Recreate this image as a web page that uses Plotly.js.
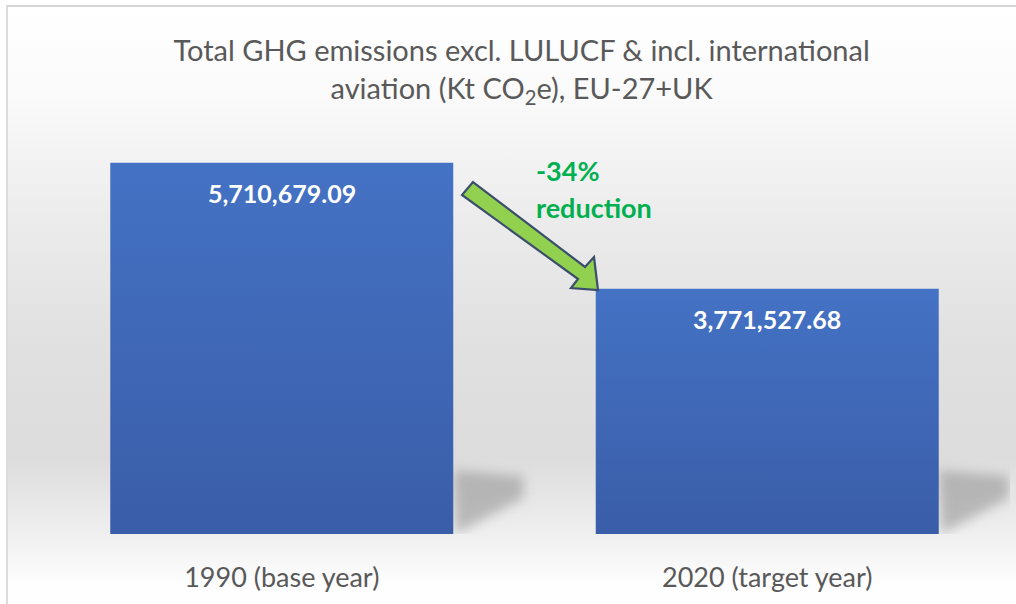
<!DOCTYPE html>
<html>
<head>
<meta charset="utf-8">
<script src="https://cdn.plot.ly/plotly-3.0.1.min.js"></script>
<style>
  html, body { margin: 0; padding: 0; width: 1016px; height: 604px; overflow: hidden; background: #ffffff; }
  #frame {
    position: absolute; left: 6px; top: 5px; width: 1010px; height: 599px;
    border-top: 2px solid #d6d6d6; border-left: 2px solid #dcdcdc;
    background: linear-gradient(to bottom, #ffffff 0%, #fafafa 15%, #ececec 35%, #e1e1e1 55%, #dcdcdc 75%, #efefef 88%, #fdfdfd 96%, #ffffff 100%);
  }
  #chart { position: absolute; left: 0; top: 0; width: 1016px; height: 604px; }
</style>
</head>
<body>
<div id="frame"></div>
<div id="chart"></div>
<script>
// ---- data ----
const categories = ["1990 (base year)", "2020 (target year)"];
const emissions = [5710679.09, 3771527.68];
const reductionLabel = ["-34%", "reduction"];
const chartTitle = "Total GHG emissions excl. LULUCF &amp; incl. international<br>aviation (Kt CO<sub>2</sub>e), EU-27+UK";

// ---- layout constants ----
const W = 1016, H = 604;
const M = { l: 39, r: 6, t: 144, b: 70 };
const plotW = W - M.l - M.r, plotH = H - M.t - M.b;
const yMax = 6000000;
const bargap = 0.2935;
const FONT = "Lato, 'Open Sans', sans-serif";

function px2paper(px, py) { return [(px - M.l) / plotW, (H - M.b - py) / plotH]; }
function pathFromPx(points) {
  return points.map((p, i) => {
    const q = px2paper(p[0], p[1]);
    return (i ? "L" : "M") + q[0].toFixed(5) + "," + q[1].toFixed(5);
  }).join(" ") + " Z";
}

// shadows derived from bar geometry (data coords)
const half = (1 - bargap) / 2;
const xPerPx = 2 / plotW, yPerPx = yMax / plotH;
const shapes = [];
emissions.forEach((v, i) => {
  const r = i + half;
  const pts = [[0, 64], [70, 58], [70, 36], [2, 0]];
  const path = pts.map((p, k) => (k ? "L" : "M") + (r + p[0] * xPerPx).toFixed(5) + "," + (p[1] * yPerPx).toFixed(1)).join(" ") + " Z";
  shapes.push({ type: "path", xref: "x", yref: "y", path: path, fillcolor: "rgb(150,150,150)", opacity: 0.6, line: { width: 0 }, layer: "below", name: "shadow" });
});

// block arrow (decoration) in pixel positions converted to paper
const arrowPx = [[473, 182], [585, 267], [594, 257], [598, 290], [571, 288], [578, 279], [462, 195]];
shapes.push({ type: "path", xref: "paper", yref: "paper", path: pathFromPx(arrowPx), fillcolor: "#92D050", line: { color: "#3B4E6B", width: 2.2 }, layer: "above", name: "arrow" });

const annotations = emissions.map((v, i) => ({
  x: categories[i], y: v, xref: "x", yref: "y",
  text: v.toLocaleString("en-US", { minimumFractionDigits: 2, maximumFractionDigits: 2 }),
  showarrow: false, yanchor: "top", yshift: -13,
  font: { family: FONT, size: 25, color: "#ffffff", weight: "bold" }
}));
const p1 = px2paper(534, 170), p2 = px2paper(534, 207);
annotations.push({ xref: "paper", yref: "paper", x: p1[0], y: p1[1], xanchor: "left", yanchor: "middle", showarrow: false, text: "<b>" + reductionLabel[0] + "</b>", font: { family: FONT, size: 27, color: "#00B050" } });
annotations.push({ xref: "paper", yref: "paper", x: p2[0], y: p2[1], xanchor: "left", yanchor: "middle", showarrow: false, text: "<b>" + reductionLabel[1] + "</b>", font: { family: FONT, size: 27, color: "#00B050" } });

const trace = {
  type: "bar", x: categories, y: emissions,
  marker: { color: "#4069BA", line: { width: 0 } },
  hoverinfo: "skip"
};

const layout = {
  width: W, height: H,
  margin: M,
  paper_bgcolor: "rgba(0,0,0,0)", plot_bgcolor: "rgba(0,0,0,0)",
  showlegend: false,
  bargap: bargap,
  title: { text: chartTitle, xref: "paper", x: 0.497, xanchor: "center", yref: "container", y: 1 - 61 / H, yanchor: "middle",
           font: { family: FONT, size: 29, color: "#595959" } },
  xaxis: { type: "category", range: [-0.5, 1.5], showgrid: false, zeroline: false, showline: false, ticks: "",
           ticklabelstandoff: 25, tickfont: { family: FONT, size: 27, color: "#595959" }, fixedrange: true },
  yaxis: { range: [0, yMax], visible: false, showgrid: false, zeroline: false, fixedrange: true },
  shapes: shapes,
  annotations: annotations
};

Plotly.newPlot("chart", [trace], layout, { displayModeBar: false, staticPlot: true }).then(gd => {
  const svg = gd.querySelector("svg.main-svg");
  const NS = "http://www.w3.org/2000/svg";
  let defs = svg.querySelector("defs");
  if (!defs) { defs = document.createElementNS(NS, "defs"); svg.insertBefore(defs, svg.firstChild); }
  const grad = document.createElementNS(NS, "linearGradient");
  grad.setAttribute("id", "barGrad"); grad.setAttribute("x1", "0"); grad.setAttribute("y1", "0"); grad.setAttribute("x2", "0"); grad.setAttribute("y2", "1");
  [["0", "#4472C4"], ["1", "#3A5DA8"]].forEach(s => {
    const st = document.createElementNS(NS, "stop");
    st.setAttribute("offset", s[0]); st.setAttribute("stop-color", s[1]);
    grad.appendChild(st);
  });
  defs.appendChild(grad);
  const filt = document.createElementNS(NS, "filter");
  filt.setAttribute("id", "shadowBlur"); filt.setAttribute("x", "-50%"); filt.setAttribute("y", "-50%"); filt.setAttribute("width", "200%"); filt.setAttribute("height", "200%");
  const blur = document.createElementNS(NS, "feGaussianBlur");
  blur.setAttribute("stdDeviation", "6");
  filt.appendChild(blur);
  defs.appendChild(filt);
  gd.querySelectorAll(".barlayer .point path").forEach(p => { p.style.fill = "url(#barGrad)"; });
  gd.querySelectorAll(".shapelayer path").forEach(p => {
    const f = (p.style.fill || "").replace(/\s/g, "");
    if (f === "rgb(150,150,150)") {
      p.setAttribute("filter", "url(#shadowBlur)");
      p.style.filter = "url(#shadowBlur)";
    }
  });
});
</script>
</body>
</html>
